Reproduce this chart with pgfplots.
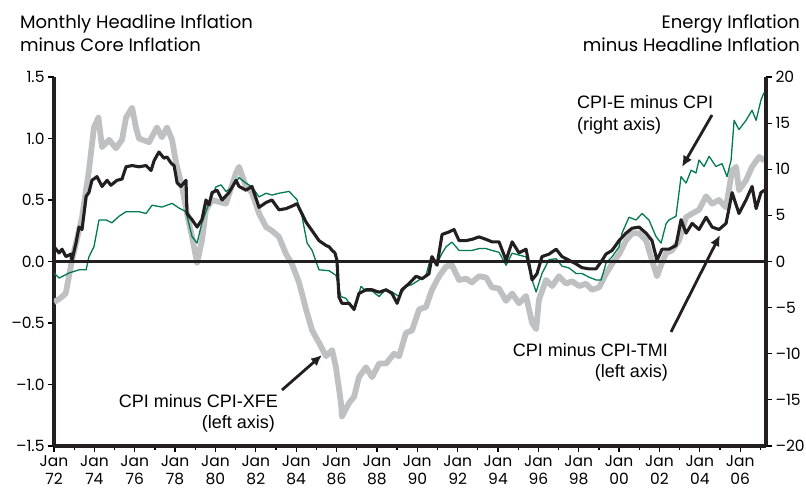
\documentclass[border=0pt]{standalone}
\usepackage{fontspec}
\setmainfont{Liberation Sans}
\newfontfamily\geofont{Poppins}
\newfontfamily\helfont{Liberation Sans}
\usepackage{pgfplots}
\pgfplotsset{compat=1.18}
\usetikzlibrary{arrows.meta}
\definecolor{xfegray}{RGB}{190,192,194}
\definecolor{tmiblack}{RGB}{35,31,32}
\definecolor{egreen}{RGB}{0,122,82}
\newcommand\tickfont{\geofont\fontsize{15.5bp}{18bp}\selectfont}
\newcommand\titlefont{\geofont\fontsize{18bp}{22bp}\selectfont}
\newcommand\annfont{\helfont\fontsize{18bp}{21bp}\selectfont}
\pgfplotsset{base/.style={scale only axis, width=712bp, height=369bp,
  at={(54bp,49bp)}, anchor=south west, xmin=1972, xmax=2007.28,
  separate axis lines,
  tick style={line width=1.2bp, black}, tick align=outside,
  major tick length=6bp, minor tick length=4bp,
  xticklabel style={font=\tickfont, align=center},
  yticklabel style={font=\tickfont}}}
\begin{document}
\begin{tikzpicture}
\useasboundingbox (0,0) rectangle (806bp,495bp);
% left axis: CPI minus CPI-XFE
\begin{axis}[base, axis x line*=bottom, axis y line*=left,
  axis line style={line width=3.2bp, tmiblack},
  ymin=-1.5, ymax=1.5, ytick={-1.5,-1,-0.5,0,0.5,1,1.5},
  yticklabels={\textendash1.5,\textendash1.0,\textendash0.5,0.0,0.5,1.0,1.5},
  xtick={1972,1974,...,2006},
  xticklabels={Jan\\72,Jan\\74,Jan\\76,Jan\\78,Jan\\80,Jan\\82,Jan\\84,Jan\\86,Jan\\88,Jan\\90,Jan\\92,Jan\\94,Jan\\96,Jan\\98,Jan\\00,Jan\\02,Jan\\04,Jan\\06},
  minor xtick={1973,1975,...,2007}]
\addplot[xfegray, line width=5.8bp, line join=round] coordinates {
(1972.00,-0.33)(1972.30,-0.30)(1972.58,-0.26)(1972.89,0.01)(1973.39,0.36)(1973.73,0.74)
(1973.98,1.09)(1974.20,1.17)(1974.38,0.93)(1974.73,0.99)(1975.07,0.92)(1975.37,0.99)
(1975.57,1.17)(1975.87,1.25)(1976.06,1.09)(1976.21,1.00)(1976.71,0.97)(1977.10,1.09)
(1977.35,1.01)(1977.60,1.09)(1977.85,0.99)(1978.05,0.80)(1978.34,0.61)(1978.59,0.39)
(1978.84,0.20)(1979.09,-0.01)(1979.33,0.17)(1979.53,0.42)(1979.83,0.50)(1980.52,0.47)
(1981.02,0.72)(1981.17,0.77)(1981.51,0.61)(1981.81,0.56)(1982.16,0.39)(1982.51,0.28)
(1982.80,0.25)(1983.15,0.20)(1983.50,0.06)(1983.79,-0.02)(1984.14,-0.17)(1984.49,-0.39)
(1984.79,-0.56)(1985.13,-0.66)(1985.48,-0.77)(1985.78,-0.72)(1985.97,-0.86)(1986.22,-1.15)
(1986.27,-1.26)(1986.62,-1.15)(1986.87,-1.10)(1987.11,-0.94)(1987.46,-0.86)(1987.76,-0.94)
(1988.11,-0.83)(1988.45,-0.83)(1988.85,-0.75)(1989.10,-0.77)(1989.44,-0.58)(1989.74,-0.56)
(1990.09,-0.39)(1990.43,-0.37)(1990.73,-0.23)(1991.08,-0.12)(1991.43,-0.04)(1991.72,-0.03)
(1992.07,-0.15)(1992.42,-0.14)(1992.71,-0.17)(1993.06,-0.12)(1993.41,-0.13)(1993.70,-0.21)
(1994.05,-0.22)(1994.40,-0.32)(1994.70,-0.26)(1995.04,-0.34)(1995.39,-0.28)(1995.69,-0.50)
(1995.89,-0.55)(1996.03,-0.31)(1996.38,-0.15)(1996.68,-0.20)(1997.02,-0.12)(1997.37,-0.18)
(1997.67,-0.16)(1998.02,-0.20)(1998.36,-0.18)(1998.66,-0.23)(1999.01,-0.21)(1999.35,-0.10)
(1999.65,-0.02)(2000.00,0.06)(2000.34,0.17)(2000.64,0.23)(2000.99,0.23)(2001.34,0.17)
(2001.63,0.01)(2001.88,-0.12)(2002.08,-0.03)(2002.33,0.07)(2002.62,0.09)(2002.97,0.17)
(2003.32,0.36)(2003.62,0.39)(2003.96,0.42)(2004.31,0.53)(2004.61,0.47)(2004.95,0.50)
(2005.30,0.44)(2005.60,0.74)(2005.80,0.77)(2005.94,0.58)(2006.29,0.66)(2006.59,0.77)
(2006.94,0.85)(2007.20,0.82)};
\end{axis}
% right axis: CPI-E minus CPI
\begin{axis}[base, axis x line=none, axis y line*=right,
  axis line style={line width=3.2bp, tmiblack},
  ymin=-20, ymax=20, ytick={-20,-15,...,20},
  yticklabels={\textendash20,\textendash15,\textendash10,\textendash5,0,5,10,15,20}]
\addplot[egreen, line width=1.3bp, line join=round] coordinates {
(1972.00,-1.25)(1972.25,-1.8)(1972.74,-1.25)(1973.24,-0.9)(1973.59,-0.9)(1973.73,0.5)
(1973.98,1.6)(1974.23,4.5)(1974.58,4.5)(1974.87,4.2)(1975.22,4.9)(1975.57,5.4)
(1976.21,5.4)(1976.56,5.2)(1976.86,6.1)(1977.35,5.9)(1977.85,6.3)(1978.19,5.8)
(1978.54,5.4)(1978.84,2.7)(1979.09,2.0)(1979.33,4.2)(1979.68,6.3)(1980.03,8.1)
(1980.28,8.3)(1980.52,7.6)(1980.82,8.0)(1981.17,9.1)(1981.51,8.5)(1981.81,8.1)
(1982.16,7.0)(1982.51,7.4)(1982.80,7.2)(1983.15,7.4)(1983.65,7.6)(1984.04,6.7)
(1984.29,4.9)(1984.54,2.0)(1984.79,1.2)(1985.13,-0.9)(1985.63,-1.0)(1985.97,-1.5)
(1986.22,-3.8)(1986.47,-4.0)(1986.87,-5.3)(1987.21,-2.7)(1987.46,-3.2)(1987.76,-3.2)
(1988.11,-3.8)(1988.45,-3.0)(1988.75,-3.3)(1989.10,-3.8)(1989.44,-2.7)(1989.74,-2.5)
(1990.09,-2.0)(1990.43,-1.5)(1990.68,0.5)(1990.93,-0.4)(1991.23,0.9)(1991.43,1.6)
(1991.72,2.1)(1992.07,1.2)(1992.42,1.2)(1992.71,1.2)(1993.06,1.4)(1993.41,1.4)
(1993.70,1.2)(1994.05,1.0)(1994.40,-0.4)(1994.70,0.9)(1995.04,0.7)(1995.39,0.5)
(1995.69,-2.0)(1995.89,-3.3)(1996.18,-1.3)(1996.53,0.2)(1996.88,0.3)(1997.17,-0.5)
(1997.52,-0.7)(1997.87,-1.3)(1998.16,-1.3)(1998.51,-1.7)(1998.86,-2.0)(1999.11,-2.0)
(1999.35,-0.2)(1999.65,0.5)(2000.00,1.6)(2000.15,3.1)(2000.49,4.8)(2000.84,4.5)
(2001.14,5.2)(2001.48,4.5)(2001.83,2.7)(2002.08,2.0)(2002.33,4.1)(2002.47,4.5)
(2002.82,4.9)(2003.07,9.2)(2003.32,8.5)(2003.57,9.9)(2003.81,9.6)(2003.96,11.0)
(2004.21,10.3)(2004.46,11.4)(2004.80,10.3)(2005.10,10.6)(2005.35,9.2)(2005.55,11.0)
(2005.70,15.3)(2005.94,14.3)(2006.29,15.3)(2006.59,16.4)(2006.79,15.3)(2007.03,17.5)
(2007.18,18.3)};
\end{axis}
% left scale again: CPI minus CPI-TMI and the zero line
\begin{axis}[base, hide axis, ymin=-1.5, ymax=1.5]
\addplot[tmiblack, line width=2.2bp] coordinates {(1972,0)(2007.28,0)};
\addplot[tmiblack, line width=3.1bp, line join=round] coordinates {
(1972.00,0.12)(1972.25,0.07)(1972.40,0.10)(1972.59,0.04)(1972.84,0.06)(1972.89,0.01)
(1973.09,0.15)(1973.24,0.28)(1973.39,0.26)(1973.59,0.53)(1973.73,0.56)(1973.88,0.66)
(1974.13,0.69)(1974.38,0.61)(1974.63,0.66)(1974.82,0.62)(1975.12,0.66)(1975.37,0.67)
(1975.57,0.77)(1975.87,0.78)(1976.21,0.77)(1976.56,0.78)(1976.81,0.74)(1976.96,0.82)
(1977.20,0.89)(1977.45,0.84)(1977.60,0.85)(1977.80,0.80)(1977.95,0.78)(1978.10,0.64)
(1978.29,0.61)(1978.54,0.66)(1978.59,0.39)(1978.84,0.34)(1979.09,0.28)(1979.33,0.34)
(1979.53,0.50)(1979.68,0.46)(1979.83,0.56)(1980.08,0.58)(1980.33,0.50)(1980.67,0.56)
(1981.02,0.66)(1981.17,0.61)(1981.51,0.58)(1981.81,0.61)(1982.16,0.44)(1982.51,0.48)
(1982.80,0.50)(1983.15,0.42)(1983.50,0.43)(1983.79,0.45)(1984.04,0.47)(1984.49,0.32)
(1984.79,0.25)(1985.13,0.17)(1985.48,0.13)(1985.63,0.12)(1985.78,0.09)(1985.92,0.07)
(1986.02,0.01)(1986.12,-0.29)(1986.27,-0.34)(1986.62,-0.34)(1986.87,-0.39)(1987.11,-0.26)
(1987.46,-0.23)(1987.76,-0.23)(1988.11,-0.25)(1988.45,-0.23)(1988.75,-0.26)(1989.00,-0.34)
(1989.24,-0.23)(1989.59,-0.18)(1989.94,-0.12)(1990.24,-0.14)(1990.58,-0.10)(1990.73,0.04)
(1990.98,-0.03)(1991.23,0.22)(1991.57,0.24)(1991.82,0.26)(1992.07,0.17)(1992.42,0.17)
(1992.71,0.18)(1993.06,0.20)(1993.41,0.18)(1993.70,0.16)(1994.05,0.16)(1994.40,0.01)
(1994.70,0.16)(1995.04,0.07)(1995.39,0.10)(1995.69,-0.15)(1995.93,-0.10)(1996.18,0.04)
(1996.53,0.06)(1996.88,0.10)(1997.17,0.04)(1997.52,0.01)(1997.87,-0.02)(1998.16,-0.05)
(1998.51,-0.06)(1998.86,-0.06)(1999.16,0.01)(1999.35,0.06)(1999.65,0.09)(2000.00,0.17)
(2000.34,0.23)(2000.64,0.27)(2000.99,0.28)(2001.34,0.23)(2001.63,0.17)(2001.88,0.01)
(2002.13,0.10)(2002.47,0.10)(2002.82,0.13)(2003.07,0.34)(2003.32,0.23)(2003.62,0.31)
(2003.96,0.26)(2004.31,0.36)(2004.61,0.28)(2004.95,0.26)(2005.30,0.31)(2005.60,0.56)
(2005.80,0.46)(2005.94,0.39)(2006.29,0.50)(2006.59,0.61)(2006.79,0.43)(2007.03,0.56)
(2007.20,0.58)};
\end{axis}
% titles
\node[anchor=base west, inner sep=0, font=\titlefont] at (20bp,466bp) {Monthly Headline Inflation};
\node[anchor=base west, inner sep=0, font=\titlefont] at (20bp,443bp) {minus Core Inflation};
\node[anchor=base east, inner sep=0, font=\titlefont] at (800bp,466bp) {Energy Inflation};
\node[anchor=base east, inner sep=0, font=\titlefont] at (800bp,443bp) {minus Headline Inflation};
% annotations
\node[anchor=base east, inner sep=0, font=\annfont] at (278bp,87bp) {CPI minus CPI-XFE};
\node[anchor=base east, inner sep=0, font=\annfont] at (275bp,66bp) {(left axis)};
\draw[line width=2.8bp, tmiblack, -{Latex[length=11bp,width=10bp]}] (282bp,105bp) -- (322bp,140bp);
\node[anchor=base west, inner sep=0, font=\annfont] at (577bp,386bp) {CPI-E minus CPI};
\node[anchor=base west, inner sep=0, font=\annfont] at (577bp,364bp) {(right axis)};
\draw[line width=2.8bp, tmiblack, -{Latex[length=11bp,width=10bp]}] (712bp,380bp) -- (682bp,328bp);
\node[anchor=base east, inner sep=0, font=\annfont] at (668bp,138bp) {CPI minus CPI-TMI};
\node[anchor=base east, inner sep=0, font=\annfont] at (668bp,117bp) {(left axis)};
\draw[line width=2.8bp, tmiblack, -{Latex[length=11bp,width=10bp]}] (671bp,163bp) -- (720bp,260bp);
\end{tikzpicture}
\end{document}
